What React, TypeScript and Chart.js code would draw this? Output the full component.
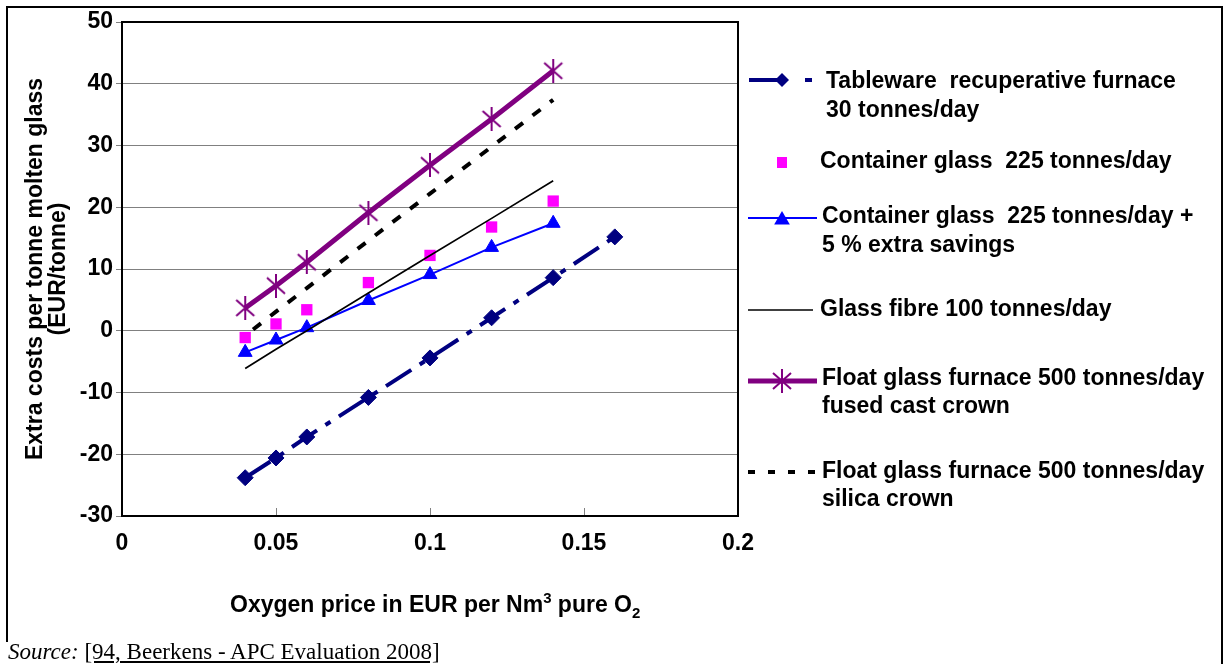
import React, { useEffect, useRef } from 'react';
import { Chart, registerables } from 'chart.js';

Chart.register(...registerables);

// ---------- data ----------
const oxygenPrices = [0.04, 0.05, 0.06, 0.08, 0.1, 0.12, 0.14, 0.16];
const tableware = [-23.8, -20.6, -17.2, -10.8, -4.4, 2.1, 8.6, 15.2];
const containerGlass = [-1.1, 1.1, 3.4, 7.8, 12.2, 16.8, 21.0];
const containerExtra = [-3.5, -1.5, 0.5, 4.9, 9.1, 13.5, 17.4];
const glassFibre = [-6.1, -3.0, 0.0, 6.1, 12.2, 18.2, 24.3];
const floatFused = [3.7, 7.3, 11.1, 19.1, 26.8, 34.3, 42.1];
const floatSilica = [-0.8, 3.1, 6.9, 14.6, 22.2, 29.8, 37.4];

const xTickValues = [0, 0.05, 0.1, 0.15, 0.2];
const xTickLabels = ['0', '0.05', '0.1', '0.15', '0.2'];
const yMin = -30;
const yMax = 50;
const yStep = 10;

const seriesLabels = [
  ['Tableware  recuperative furnace', '30 tonnes/day'],
  ['Container glass  225 tonnes/day'],
  ['Container glass  225 tonnes/day +', '5 % extra savings'],
  ['Glass fibre 100 tonnes/day'],
  ['Float glass furnace 500 tonnes/day', 'fused cast crown'],
  ['Float glass furnace 500 tonnes/day', 'silica crown'],
];
const yTitle = ['Extra costs per tonne molten glass', '(EUR/tonne)'];

const NAVY = '#000080';
const MAGENTA = '#ff00ff';
const BLUE = '#0000ff';
const PURPLE = '#800080';
const FONT = '"Liberation Sans", Arial, sans-serif';

const toPoints = (vals: number[]) => vals.map((v, i) => ({ x: oxygenPrices[i], y: v }));

function makeAsterisk(): HTMLCanvasElement {
  const c = document.createElement('canvas');
  c.width = 22;
  c.height = 24;
  const g = c.getContext('2d')!;
  g.strokeStyle = PURPLE;
  g.lineWidth = 2;
  g.beginPath();
  g.moveTo(11, 0); g.lineTo(11, 24);
  g.moveTo(2, 4); g.lineTo(20, 20);
  g.moveTo(20, 4); g.lineTo(2, 20);
  g.stroke();
  return c;
}

function drawDiamond(ctx: CanvasRenderingContext2D, x: number, y: number, r: number, color: string) {
  ctx.fillStyle = color;
  ctx.beginPath();
  ctx.moveTo(x, y - r); ctx.lineTo(x + r, y); ctx.lineTo(x, y + r); ctx.lineTo(x - r, y);
  ctx.closePath();
  ctx.fill();
}
function drawTriangle(ctx: CanvasRenderingContext2D, x: number, y: number, r: number, color: string) {
  ctx.fillStyle = color;
  ctx.beginPath();
  ctx.moveTo(x, y - r);
  ctx.lineTo(x + r * 0.87, y + r * 0.5);
  ctx.lineTo(x - r * 0.87, y + r * 0.5);
  ctx.closePath();
  ctx.fill();
}
function line(ctx: CanvasRenderingContext2D, x1: number, x2: number, y: number, color: string, w: number, dash: number[] = []) {
  ctx.strokeStyle = color;
  ctx.lineWidth = w;
  ctx.setLineDash(dash);
  ctx.beginPath();
  ctx.moveTo(x1, y);
  ctx.lineTo(x2, y);
  ctx.stroke();
  ctx.setLineDash([]);
}

const decorPlugin = {
  id: 'decor',
  afterDraw(chart: any) {
    const ctx: CanvasRenderingContext2D = chart.ctx;
    const { left, right, top, bottom } = chart.chartArea;
    ctx.save();
    // inside x tick marks
    const xs = chart.scales.x;
    ctx.strokeStyle = '#808080';
    ctx.lineWidth = 1;
    xTickValues.forEach((v) => {
      const px = Math.round(xs.getPixelForValue(v)) + 0.5;
      ctx.beginPath();
      ctx.moveTo(px, bottom - 8);
      ctx.lineTo(px, bottom);
      ctx.stroke();
    });
    // plot frame
    ctx.strokeStyle = '#000';
    ctx.lineWidth = 2;
    ctx.strokeRect(left, top, right - left, bottom - top);

    // y title
    ctx.fillStyle = '#000';
    ctx.font = `bold 23px ${FONT}`;
    ctx.textAlign = 'center';
    ctx.textBaseline = 'middle';
    const cy = (top + bottom) / 2;
    [36, 59].forEach((x, i) => {
      ctx.save();
      ctx.translate(x, cy);
      ctx.rotate(-Math.PI / 2);
      ctx.fillText(yTitle[i], 0, 0);
      ctx.restore();
    });

    // legend
    ctx.textAlign = 'left';
    // 1 tableware
    line(ctx, 749, 777, 80, NAVY, 4);
    drawDiamond(ctx, 782, 80, 7, NAVY);
    line(ctx, 805, 812, 80, NAVY, 4);
    // 2 container
    ctx.fillStyle = MAGENTA;
    ctx.fillRect(777, 157, 10, 11);
    // 3 container + extra
    line(ctx, 748, 817, 218, BLUE, 2);
    drawTriangle(ctx, 782, 220, 9, BLUE);
    // 4 glass fibre
    line(ctx, 748, 813, 310, '#000', 1.5);
    // 5 float fused
    line(ctx, 748, 817, 381, PURPLE, 5);
    ctx.drawImage(asterisk, 782 - 11, 381 - 12);
    // 6 float silica
    line(ctx, 748, 817, 472, '#000', 4, [7, 13]);

    ctx.fillStyle = '#000';
    const textPos: [number, number[]][] = [
      [826, [82, 111]],
      [820, [162]],
      [822, [217, 246]],
      [820, [310]],
      [822, [379, 407]],
      [822, [472, 500]],
    ];
    textPos.forEach(([x, ys], i) => {
      ys.forEach((y, j) => ctx.fillText(seriesLabels[i][j], x, y));
    });
    ctx.restore();
  },
};

let asterisk: HTMLCanvasElement;

export default function App() {
  const ref = useRef<HTMLCanvasElement>(null);

  useEffect(() => {
    document.body.style.margin = '0';
    asterisk = makeAsterisk();
    const chart = new Chart(ref.current!, {
      type: 'line',
      data: {
        datasets: [
          {
            label: seriesLabels[4].join(' '),
            data: toPoints(floatFused),
            borderColor: PURPLE,
            backgroundColor: PURPLE,
            borderWidth: 5,
            pointStyle: asterisk as any,
            pointRadius: 11,
          },
          {
            label: seriesLabels[5].join(' '),
            data: toPoints(floatSilica),
            borderColor: '#000',
            borderWidth: 4,
            borderDash: [10, 12],
            borderDashOffset: 12,
            pointRadius: 0,
          },
          {
            label: seriesLabels[3].join(' '),
            data: toPoints(glassFibre),
            borderColor: '#000',
            borderWidth: 1.7,
            pointRadius: 0,
          },
          {
            label: seriesLabels[2].join(' '),
            data: toPoints(containerExtra),
            borderColor: BLUE,
            backgroundColor: BLUE,
            borderWidth: 2,
            pointStyle: 'triangle',
            pointRadius: 8,
            pointBorderWidth: 1,
          },
          {
            label: seriesLabels[1].join(' '),
            data: toPoints(containerGlass),
            showLine: false,
            borderColor: MAGENTA,
            backgroundColor: MAGENTA,
            pointStyle: 'rect',
            pointRadius: 8,
            pointBorderWidth: 0,
          },
          {
            label: seriesLabels[0].join(' '),
            data: toPoints(tableware),
            borderColor: NAVY,
            backgroundColor: NAVY,
            borderWidth: 4,
            borderDash: [30, 10, 6, 10],
            pointStyle: 'rectRot',
            pointRadius: 8,
            pointBorderWidth: 1,
          },
        ],
      },
      options: {
        animation: false,
        responsive: false,
        events: [],
        layout: { padding: { left: 0, top: 22, right: 487, bottom: 0 } },
        plugins: { legend: { display: false }, tooltip: { enabled: false } },
        scales: {
          x: {
            type: 'linear',
            min: 0,
            max: 0.2,
            afterFit: (s: any) => { s.height = 148; },
            afterBuildTicks: (s: any) => { s.ticks = xTickValues.map((v) => ({ value: v })); },
            ticks: {
              callback: (v: any) => xTickLabels[xTickValues.findIndex((t) => Math.abs(t - v) < 1e-9)] ?? '',
              color: '#000',
              font: { family: FONT, size: 23, weight: 'bold' },
              padding: 14,
              maxRotation: 0,
            },
            grid: { display: true, drawOnChartArea: false, drawTicks: false },
            border: { display: false },
          },
          y: {
            min: yMin,
            max: yMax,
            afterFit: (s: any) => { s.width = 122; },
            ticks: {
              stepSize: yStep,
              color: '#000',
              font: { family: FONT, size: 23, weight: 'bold' },
              padding: 3,
            },
            grid: { color: '#808080', tickColor: '#808080', tickLength: 6, lineWidth: 1 },
            border: { display: false },
          },
        },
      },
      plugins: [decorPlugin],
    });
    return () => chart.destroy();
  }, []);

  return (
    <div style={{ position: 'relative', width: 1225, height: 664, overflow: 'hidden', background: '#fff' }}>
      <canvas ref={ref} width={1225} height={664} style={{ position: 'absolute', left: 0, top: 0 }} />
      <div style={{ position: 'absolute', left: 6, top: 6, width: 1217, height: 2, background: '#000' }} />
      <div style={{ position: 'absolute', left: 6, top: 6, width: 2, height: 636, background: '#000' }} />
      <div style={{ position: 'absolute', left: 1221, top: 6, width: 2, height: 660, background: '#000' }} />
      <div
        style={{
          position: 'absolute',
          left: 230,
          top: 590,
          fontFamily: FONT,
          fontWeight: 'bold',
          fontSize: 23,
          lineHeight: '28px',
          whiteSpace: 'nowrap',
        }}
      >
        Oxygen price in EUR per Nm
        <span style={{ fontSize: 15, position: 'relative', top: -9 }}>3</span> pure O
        <span style={{ fontSize: 15, position: 'relative', top: 6 }}>2</span>
      </div>
      <div
        style={{
          position: 'absolute',
          left: 8,
          top: 640,
          fontFamily: '"Liberation Serif", "Times New Roman", serif',
          fontSize: 23,
          lineHeight: '24px',
          whiteSpace: 'nowrap',
        }}
      >
        <i>Source:</i> <span style={{ textDecoration: 'underline' }}>[94, Beerkens - APC Evaluation 2008]</span>
      </div>
    </div>
  );
}
